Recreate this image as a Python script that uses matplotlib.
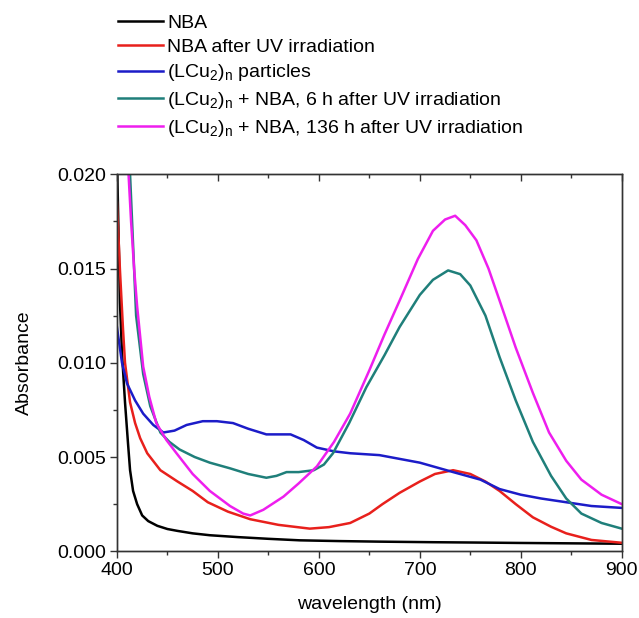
import matplotlib
matplotlib.use("Agg")
import matplotlib.pyplot as plt
from matplotlib.ticker import MultipleLocator, FormatStrFormatter

plt.rcParams["font.family"] = ["Liberation Sans", "DejaVu Sans"]
plt.rcParams["mathtext.default"] = "regular"

# 数据：吸收光谱
nba_wl = [400, 403, 405, 408, 411, 413, 416, 420, 425, 431, 440, 450, 460, 475, 492,
          520, 550, 581, 620, 660, 713, 760, 800, 850, 900]
nba_abs = [0.0210, 0.0132, 0.0105, 0.0079, 0.0057, 0.0043, 0.0032, 0.0025, 0.0019, 0.0016,
           0.00135, 0.00118, 0.00108, 0.00095, 0.00085, 0.00075, 0.00066, 0.00058, 0.00054,
           0.00051, 0.00048, 0.00046, 0.00044, 0.00042, 0.00040]

nbauv_wl = [400, 403, 406, 408, 413, 418, 423, 430, 443, 460, 475, 490, 510, 532, 560,
            591, 610, 631, 650, 663, 680, 700, 715, 733, 750, 765, 779, 795, 812, 830,
            845, 870, 900]
nbauv_abs = [0.0185, 0.0149, 0.0118, 0.0100, 0.0079, 0.0068, 0.0060, 0.0052, 0.0043, 0.0037,
             0.0032, 0.0026, 0.0021, 0.0017, 0.0014, 0.0012, 0.00128, 0.0015, 0.0020, 0.0025,
             0.0031, 0.0037, 0.0041, 0.0043, 0.0041, 0.0037, 0.0032, 0.0025, 0.0018, 0.0013,
             0.00095, 0.0006, 0.00045]

lcu_wl = [400, 405, 410, 418, 426, 436, 446, 457, 469, 485, 499, 515, 530, 548, 560, 572,
          585, 598, 615, 631, 660, 680, 700, 733, 760, 779, 800, 820, 845, 870, 900]
lcu_abs = [0.0119, 0.0100, 0.0089, 0.0080, 0.0073, 0.0067, 0.0063, 0.0064, 0.0067, 0.0069,
           0.0069, 0.0068, 0.0065, 0.0062, 0.0062, 0.0062, 0.0059, 0.0055, 0.0053, 0.0052,
           0.0051, 0.0049, 0.0047, 0.0042, 0.0038, 0.0033, 0.0030, 0.0028, 0.0026, 0.0024,
           0.0023]

mix6_wl = [413, 419, 426, 433, 443, 452, 462, 477, 492, 512, 530, 548, 558, 568, 580, 595,
           605, 614, 630, 647, 665, 680, 700, 713, 728, 740, 750, 765, 779, 795, 812, 830,
           845, 860, 880, 900]
mix6_abs = [0.0200, 0.0125, 0.0094, 0.0077, 0.0063, 0.0058, 0.0054, 0.0050, 0.0047, 0.0044,
            0.0041, 0.0039, 0.0040, 0.0042, 0.0042, 0.0043, 0.0046, 0.0052, 0.0068, 0.0087,
            0.0104, 0.0119, 0.0136, 0.0144, 0.0149, 0.0147, 0.0141, 0.0125, 0.0103, 0.0080,
            0.0058, 0.0040, 0.0028, 0.0020, 0.0015, 0.0012]

mix136_wl = [411, 414, 417, 420, 426, 432, 439, 449, 459, 475, 492, 512, 525, 532, 545, 565,
             580, 598, 615, 631, 650, 665, 680, 698, 713, 725, 735, 745, 756, 768, 779, 795,
             812, 828, 845, 860, 880, 900]
mix136_abs = [0.0205, 0.0175, 0.0150, 0.0130, 0.0098, 0.0082, 0.0068, 0.0059, 0.0052, 0.0041,
              0.0032, 0.0024, 0.0020, 0.0019, 0.0022, 0.0029, 0.0036, 0.0045, 0.0058, 0.0073,
              0.0096, 0.0115, 0.0133, 0.0155, 0.0170, 0.0176, 0.0178, 0.0173, 0.0165, 0.0150,
              0.0133, 0.0108, 0.0084, 0.0063, 0.0048, 0.0038, 0.0030, 0.0025]

labels = ["NBA",
          "NBA after UV irradiation",
          "(LCu$_2$)$_n$ particles",
          "(LCu$_2$)$_n$ + NBA, 6 h after UV irradiation",
          "(LCu$_2$)$_n$ + NBA, 136 h after UV irradiation"]
colors = ["#000000", "#e8201c", "#1c1cc8", "#1f7f7a", "#ee1eee"]

fig = plt.figure(figsize=(6.39, 6.18), dpi=100)
ax = fig.add_axes([0.183, 0.108, 0.790, 0.610])

series = [(nba_wl, nba_abs), (nbauv_wl, nbauv_abs), (lcu_wl, lcu_abs),
          (mix6_wl, mix6_abs), (mix136_wl, mix136_abs)]
handles = []
for (wl, ab), lab, c in zip(series, labels, colors):
    h, = ax.plot(wl, ab, color=c, lw=1.8, label=lab)
    handles.append(h)

ax.set_xlim(400, 900)
ax.set_ylim(0, 0.020)
ax.xaxis.set_major_locator(MultipleLocator(100))
ax.xaxis.set_minor_locator(MultipleLocator(50))
ax.yaxis.set_major_locator(MultipleLocator(0.005))
ax.yaxis.set_minor_locator(MultipleLocator(0.0025))
ax.yaxis.set_major_formatter(FormatStrFormatter('%.3f'))
ax.tick_params(axis='both', which='major', labelsize=14, direction='out', length=5, width=1,
               color='#333333', pad=3)
ax.tick_params(axis='both', which='minor', direction='out', length=3, width=1, color='#333333')

# 上边框的刻度朝内
ax2 = ax.twiny()
ax2.set_xlim(ax.get_xlim())
ax2.xaxis.set_major_locator(MultipleLocator(100))
ax2.xaxis.set_minor_locator(MultipleLocator(50))
ax2.tick_params(axis='x', which='major', direction='in', length=5, width=1,
                labeltop=False, color='#333333')
ax2.tick_params(axis='x', which='minor', direction='in', length=3, width=1, color='#333333')

for a in (ax, ax2):
    for sp in a.spines.values():
        sp.set_linewidth(1)
        sp.set_color('#333333')
ax.set_xlabel("wavelength (nm)", fontsize=14, labelpad=12)
ax.set_ylabel("Absorbance", fontsize=14, labelpad=17)

fig.legend(handles=handles, loc='upper left', bbox_to_anchor=(0.170, 0.993),
           frameon=False, fontsize=14, handlelength=2.3, handletextpad=0.2,
           labelspacing=0.34, borderpad=0)

fig.savefig("out.png", dpi=100)
